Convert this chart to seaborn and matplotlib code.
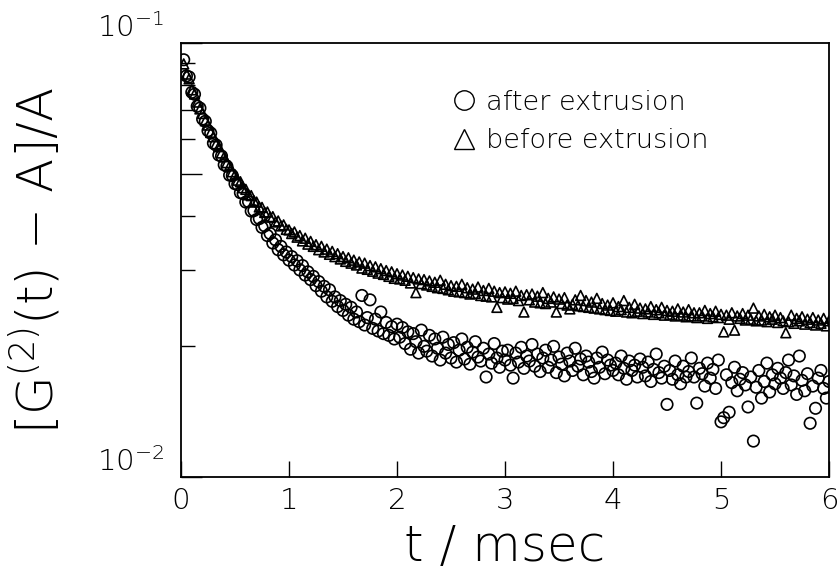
import numpy as np
import pandas as pd
import matplotlib
matplotlib.use("Agg")
import matplotlib.pyplot as plt
from matplotlib.lines import Line2D
from matplotlib.ticker import FixedLocator, NullFormatter
import seaborn as sns

sns.set_theme(style="white")
plt.rcParams["font.family"] = ["DejaVu Sans"]
plt.rcParams["font.weight"] = "light"
plt.rcParams["axes.labelweight"] = "light"
plt.rcParams["mathtext.fontset"] = "custom"
plt.rcParams["mathtext.rm"] = "DejaVu Sans:light"
plt.rcParams["mathtext.it"] = "DejaVu Sans:light"
plt.rcParams["mathtext.default"] = "rm"
plt.rcParams["text.color"] = "black"

# ── Data ──────────────────────────────────────────────────────────────────────
# correlator channels: 240 equally spaced lag times, 0.025 msec apart
T_STEP = 0.025
N_CH = 240
t = np.round(T_STEP * np.arange(1, N_CH + 1), 3)

# [G2(t) - A]/A, in units of 1e-2 (10 channels per row)
after = [
    9.15, 8.40, 8.35, 7.70, 7.62, 7.15, 7.08, 6.68, 6.60, 6.28,
    6.20, 5.88, 5.82, 5.52, 5.49, 5.24, 5.20, 4.96, 4.95, 4.74,
    4.72, 4.52, 4.50, 4.30, 4.31, 4.10, 4.11, 3.92, 3.94, 3.76,
    3.79, 3.60, 3.64, 3.46, 3.52, 3.34, 3.40, 3.25, 3.30, 3.16,
    3.22, 3.08, 3.15, 3.00, 3.07, 2.92, 2.97, 2.85, 2.90, 2.76,
    2.82, 2.68, 2.75, 2.60, 2.70, 2.54, 2.60, 2.47, 2.55, 2.42,
    2.50, 2.36, 2.46, 2.31, 2.40, 2.28, 2.62, 2.24, 2.33, 2.56,
    2.20, 2.31, 2.17, 2.40, 2.14, 2.27, 2.12, 2.22, 2.08, 2.25,
    2.10, 2.21, 2.03, 2.16, 1.97, 2.14, 2.05, 1.93, 2.18, 2.00,
    1.95, 2.12, 1.90, 2.08, 1.98, 1.86, 2.10, 1.93, 2.02, 1.88,
    2.04, 1.84, 1.96, 2.08, 1.87, 1.99, 1.82, 1.94, 2.05, 1.89,
    1.85, 1.98, 1.70, 1.92, 1.83, 2.03, 1.88, 1.79, 1.95, 1.86,
    1.96, 1.81, 1.69, 1.93, 1.84, 1.99, 1.78, 1.90, 1.85, 2.02,
    1.80, 1.92, 1.75, 1.88, 1.96, 1.79, 1.86, 2.00, 1.74, 1.89,
    1.82, 1.71, 1.93, 1.85, 1.76, 1.98, 1.80, 1.87, 1.72, 1.90,
    1.84, 1.75, 1.69, 1.88, 1.79, 1.94, 1.73, 1.86, 1.81, 1.76,
    1.83, 1.72, 1.90, 1.78, 1.68, 1.85, 1.76, 1.81, 1.70, 1.87,
    1.79, 1.71, 1.84, 1.66, 1.77, 1.92, 1.74, 1.69, 1.80, 1.47,
    1.76, 1.68, 1.85, 1.72, 1.64, 1.80, 1.70, 1.75, 1.88, 1.70,
    1.48, 1.78, 1.73, 1.62, 1.83, 1.69, 1.77, 1.60, 1.86, 1.34,
    1.37, 1.72, 1.41, 1.65, 1.79, 1.58, 1.68, 1.74, 1.63, 1.45,
    1.70, 1.21, 1.61, 1.76, 1.52, 1.66, 1.83, 1.57, 1.72, 1.64,
    1.78, 1.69, 1.60, 1.74, 1.86, 1.63, 1.71, 1.55, 1.90, 1.67,
    1.58, 1.73, 1.33, 1.62, 1.44, 1.69, 1.76, 1.60, 1.52, 1.66,
]
before = [
    8.95, 8.48, 8.27, 7.80, 7.63, 7.31, 7.05, 6.88, 6.62, 6.47,
    6.22, 6.08, 5.86, 5.77, 5.58, 5.47, 5.30, 5.21, 5.05, 4.97,
    4.83, 4.79, 4.64, 4.60, 4.47, 4.45, 4.33, 4.30, 4.19, 4.18,
    4.07, 4.08, 3.97, 3.98, 3.87, 3.89, 3.79, 3.81, 3.72, 3.71,
    3.64, 3.67, 3.57, 3.60, 3.50, 3.55, 3.44, 3.49, 3.40, 3.43,
    3.34, 3.40, 3.30, 3.35, 3.26, 3.31, 3.22, 3.27, 3.18, 3.22,
    3.14, 3.20, 3.11, 3.16, 3.08, 3.13, 3.03, 3.11, 3.01, 3.07,
    2.98, 3.05, 2.95, 3.02, 2.93, 2.99, 2.90, 2.97, 2.87, 2.94,
    2.86, 2.92, 2.84, 2.90, 2.80, 2.88, 2.66, 2.86, 2.79, 2.85,
    2.77, 2.83, 2.75, 2.81, 2.73, 2.84, 2.72, 2.78, 2.70, 2.76,
    2.68, 2.75, 2.67, 2.78, 2.66, 2.73, 2.64, 2.71, 2.65, 2.74,
    2.62, 2.69, 2.61, 2.72, 2.60, 2.68, 2.46, 2.66, 2.59, 2.67,
    2.57, 2.65, 2.58, 2.68, 2.55, 2.62, 2.40, 2.63, 2.56, 2.64,
    2.53, 2.61, 2.52, 2.66, 2.51, 2.58, 2.53, 2.60, 2.40, 2.57,
    2.51, 2.59, 2.49, 2.44, 2.50, 2.56, 2.48, 2.62, 2.47, 2.55,
    2.46, 2.53, 2.45, 2.58, 2.44, 2.51, 2.43, 2.49, 2.42, 2.52,
    2.41, 2.47, 2.43, 2.55, 2.40, 2.46, 2.39, 2.50, 2.41, 2.45,
    2.38, 2.44, 2.40, 2.47, 2.37, 2.43, 2.39, 2.46, 2.36, 2.42,
    2.37, 2.41, 2.35, 2.44, 2.36, 2.40, 2.34, 2.43, 2.35, 2.39,
    2.33, 2.39, 2.35, 2.42, 2.32, 2.38, 2.34, 2.41, 2.33, 2.37,
    2.16, 2.36, 2.31, 2.39, 2.18, 2.35, 2.32, 2.38, 2.30, 2.36,
    2.31, 2.45, 2.29, 2.35, 2.30, 2.37, 2.28, 2.34, 2.31, 2.36,
    2.27, 2.33, 2.29, 2.15, 2.28, 2.36, 2.26, 2.32, 2.29, 2.34,
    2.25, 2.31, 2.27, 2.33, 2.24, 2.30, 2.26, 2.32, 2.23, 2.29,
]

df = pd.DataFrame({
    "t": np.concatenate([t, t]),
    "g": np.concatenate([after, before]) * 1e-2,
    "sample": ["after extrusion"] * N_CH + ["before extrusion"] * N_CH,
})

# ── Plot ──────────────────────────────────────────────────────────────────────
fig = plt.figure(figsize=(8.38, 5.75), dpi=100)
ax = fig.add_axes([0.216, 0.1704, 0.7733, 0.7548])

sns.scatterplot(data=df[df["sample"] == "after extrusion"], x="t", y="g",
                marker="o", s=68, facecolors="none", edgecolor="black",
                linewidth=1.2, ax=ax, legend=False)
sns.scatterplot(data=df[df["sample"] == "before extrusion"], x="t", y="g",
                marker="^", s=50, facecolors="none", edgecolor="black",
                linewidth=1.2, ax=ax, legend=False)
for coll in ax.collections:
    coll.set_facecolor("none")
    coll.set_edgecolor("black")

ax.set_yscale("log")
ax.set_xlim(0, 6)
ax.set_ylim(0.01, 0.1)

ax.set_xticks(range(7))
ax.set_xticklabels([str(i) for i in range(7)])
ax.yaxis.set_major_locator(FixedLocator([0.01, 0.05, 0.1]))
ax.set_yticklabels(["$10^{-2}$", "", "$10^{-1}$"])
ax.yaxis.set_minor_locator(FixedLocator([0.02, 0.03, 0.04, 0.06, 0.07, 0.08, 0.09]))
ax.yaxis.set_minor_formatter(NullFormatter())
for lab in ax.get_yticklabels():
    lab.set_verticalalignment("bottom")

ax.tick_params(axis="x", which="major", direction="in", length=11.5, width=1.0,
               labelsize=21, pad=7, bottom=True, colors="black")
ax.tick_params(axis="y", which="major", direction="in", length=15, width=1.0,
               labelsize=21, pad=12, left=True, colors="black")
ax.tick_params(axis="y", which="minor", direction="in", length=10, width=1.0,
               left=True, colors="black")
for sp in ax.spines.values():
    sp.set_color("black")
    sp.set_linewidth(1.3)

ax.set_xlabel("t / msec", fontsize=36, fontweight="light", color="black")
ax.set_ylabel("[G$^{(2)}$(t) \u2212 A]/A", fontsize=36, fontweight="light",
              color="black")
ax.xaxis.set_label_coords(0.5, -0.105)
ax.yaxis.set_label_coords(-0.18, 0.5)

handles = [
    Line2D([], [], ls="none", marker="o", ms=14, mfc="none", mec="black", mew=1.0),
    Line2D([], [], ls="none", marker="^", ms=14, mfc="none", mec="black", mew=1.0),
]
ax.legend(handles, ["after extrusion", "before extrusion"], loc="upper left",
          bbox_to_anchor=(0.42, 0.892), frameon=False, fontsize=19.5,
          handlelength=0.8, handletextpad=0.4, labelspacing=0.5, borderpad=0,
          borderaxespad=0)

fig.savefig("out.png", dpi=100)
plt.close()
